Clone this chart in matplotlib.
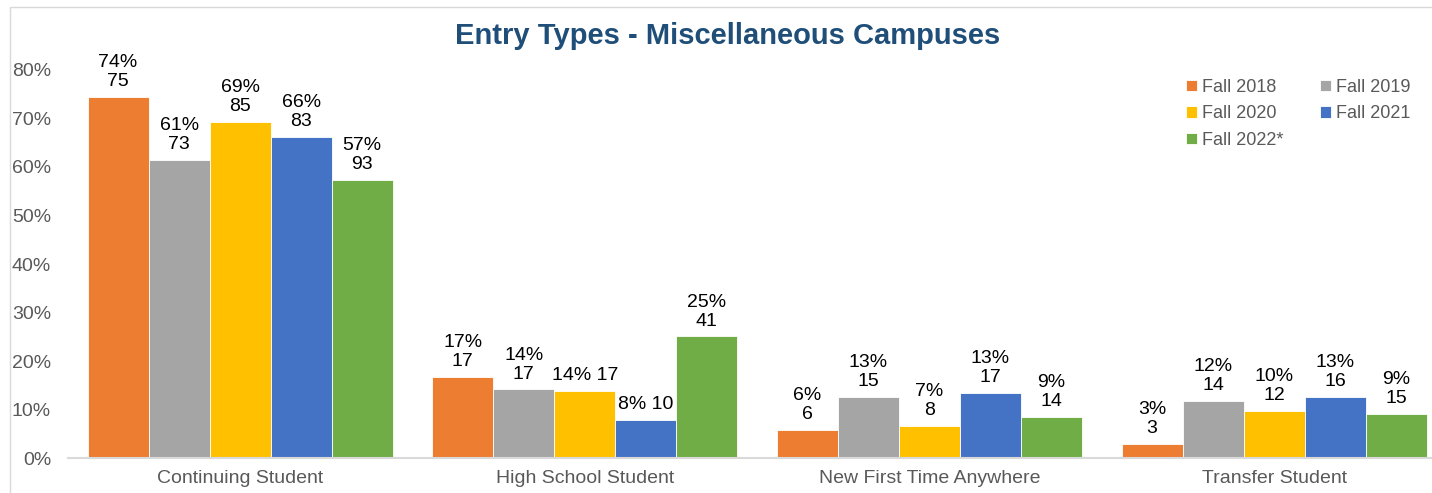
import matplotlib
matplotlib.use("Agg")
import matplotlib.pyplot as plt
from matplotlib.patches import Rectangle

plt.rcParams['font.family'] = ['Liberation Sans', 'DejaVu Sans']

categories = ['Continuing Student', 'High School Student', 'New First Time Anywhere', 'Transfer Student']
series = ['Fall 2018', 'Fall 2019', 'Fall 2020', 'Fall 2021', 'Fall 2022*']
colors = ['#ED7D31', '#A5A5A5', '#FFC000', '#4472C4', '#70AD47']

# share of students per entry type, one list per term
pct_2018 = [0.744, 0.168, 0.059, 0.030]
pct_2019 = [0.614, 0.142, 0.127, 0.118]
pct_2020 = [0.692, 0.138, 0.067, 0.098]
pct_2021 = [0.661, 0.079, 0.134, 0.127]
pct_2022 = [0.572, 0.251, 0.086, 0.092]

# headcounts shown under the percentages
cnt_2018 = [75, 17, 6, 3]
cnt_2019 = [73, 17, 15, 14]
cnt_2020 = [85, 17, 8, 12]
cnt_2021 = [83, 10, 17, 16]
cnt_2022 = [93, 41, 14, 15]

pcts = [pct_2018, pct_2019, pct_2020, pct_2021, pct_2022]
cnts = [cnt_2018, cnt_2019, cnt_2020, cnt_2021, cnt_2022]

# labels Excel put on one line
one_line = {(2, 1), (3, 1)}

fig = plt.figure(figsize=(14.32, 4.93), dpi=100)
ax = fig.add_axes([0.0473, 0.070, 0.9527, 0.789])

w = 0.177
x = range(len(categories))
bars = []
for i, name in enumerate(series):
    xs = [k + (i - 2) * w for k in x]
    b = ax.bar(xs, pcts[i], width=w, color=colors[i], edgecolor='white', linewidth=0.6, label=name)
    bars.append(b)
    for j, rect in enumerate(b):
        sep = ' ' if (i, j) in one_line else '\n'
        txt = f"{round(pcts[i][j] * 100)}%{sep}{cnts[i][j]}"
        ax.annotate(txt, (rect.get_x() + rect.get_width() / 2, rect.get_height()),
                    xytext=(0, 5), textcoords='offset points', ha='center', va='bottom',
                    fontsize=14, color='black', linespacing=1.15, annotation_clip=False)

ax.set_xlim(-0.5, 3.458)
ax.set_ylim(0, 0.8)
ax.set_yticks([i / 10 for i in range(9)])
ax.set_yticklabels([f"{i * 10}%" for i in range(9)])
ax.set_xticks(list(x))
ax.set_xticklabels(categories)
ax.tick_params(axis='y', length=0, pad=12, labelsize=14, labelcolor='#595959')
ax.tick_params(axis='x', length=0, pad=8, labelsize=14, labelcolor='#595959')
for s in ['top', 'right', 'left']:
    ax.spines[s].set_visible(False)
ax.spines['bottom'].set_color('#D9D9D9')
ax.spines['bottom'].set_linewidth(1.5)

fig.text(0.508, 0.927, 'Entry Types - Miscellaneous Campuses', ha='center', va='center',
         fontsize=21, fontweight='bold', color='#1F4E79')

order = [0, 2, 4, 1, 3]
ax.legend([bars[k] for k in order], [series[k] for k in order], ncol=2,
          loc='upper left', bbox_to_anchor=(1177 / 1432, 1 - 70 / 493),
          bbox_transform=fig.transFigure, frameon=False, borderpad=0,
          fontsize=13, handlelength=0.6, handleheight=0.6, handletextpad=0.3,
          columnspacing=2.0, labelspacing=0.52, labelcolor='#595959')

fig.patches.append(Rectangle((10 / 1432, -0.1), 1.2, 1.1 - 7 / 493, transform=fig.transFigure,
                             fill=False, edgecolor='#D9D9D9', linewidth=1))

fig.savefig('out.png', dpi=100)
